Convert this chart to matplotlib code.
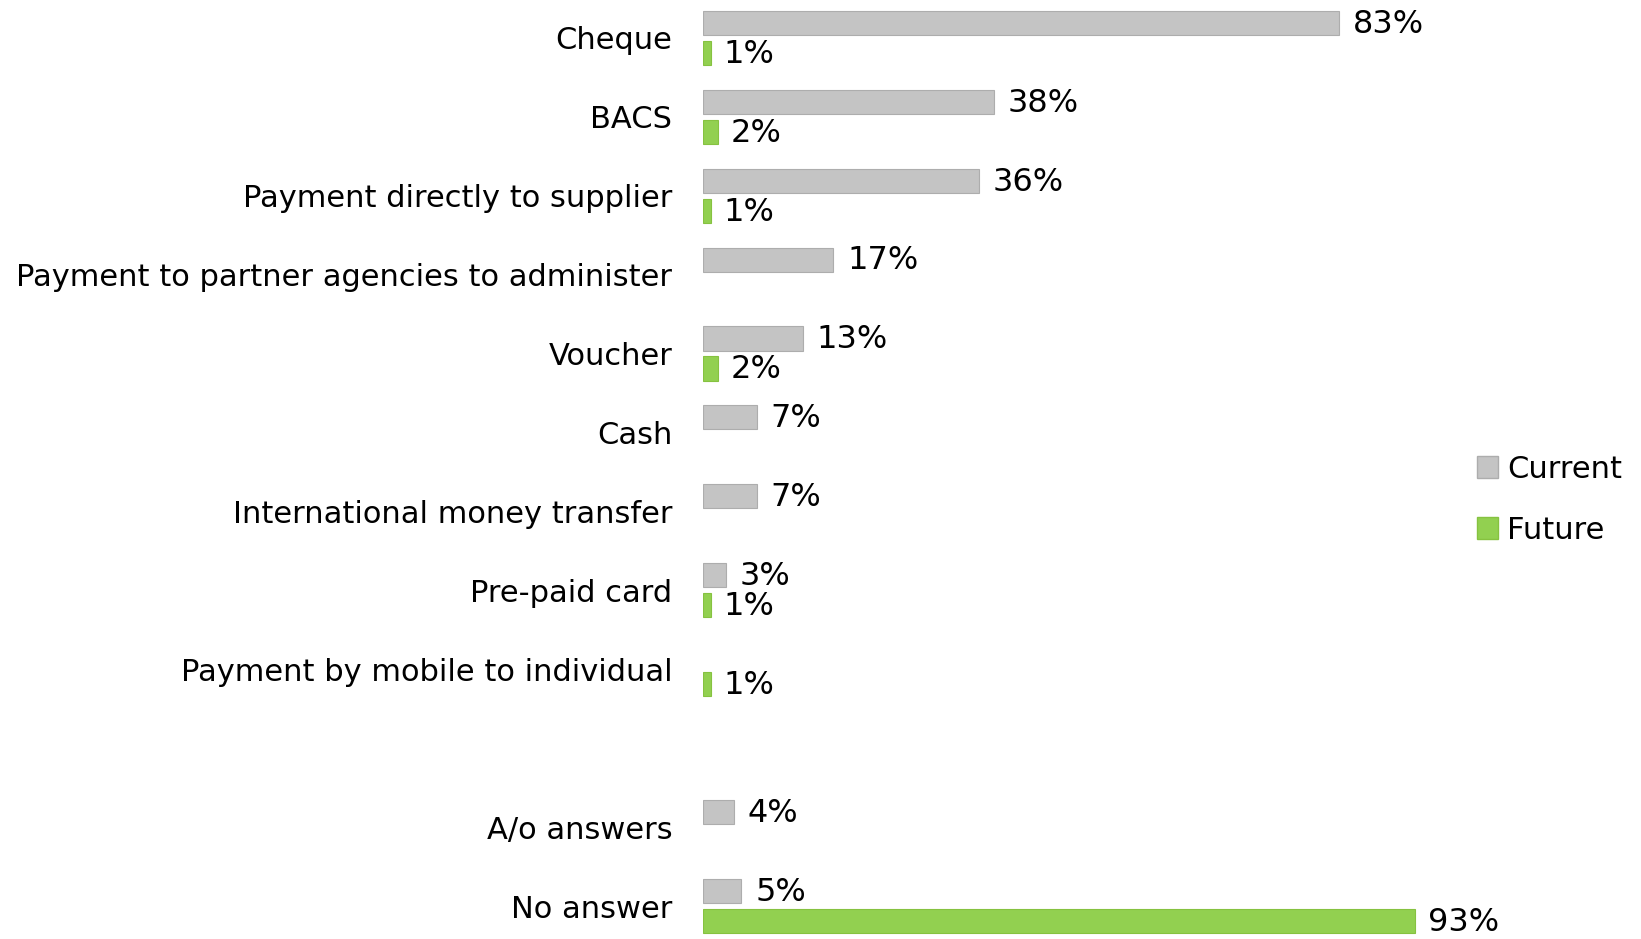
import numpy as np
import matplotlib
matplotlib.use("Agg")
from matplotlib import pyplot as plt
from matplotlib.patches import Patch

# 数据
categories = ["Cheque", "BACS", "Payment directly to supplier",
              "Payment to partner agencies to administer", "Voucher", "Cash",
              "International money transfer", "Pre-paid card",
              "Payment by mobile to individual", "",
              "A/o answers", "No answer"]
current = [83, 38, 36, 17, 13, 7, 7, 3, None, None, 4, 5]
future = [1, 2, 1, None, 2, None, None, 1, 1, None, None, 93]

plt.rcParams['font.family'] = ['DejaVu Sans']

fig = plt.figure(figsize=(16.41, 9.39), dpi=100)
ax = fig.add_axes([0.4284, 0.0015, 0.4668, 0.9961])

y = np.arange(len(categories))
h = 0.305
off = 0.19
grey = '#C4C4C4'
green = '#92D050'

for i in range(len(categories)):
    if current[i] is not None:
        ax.barh(y[i] - off, current[i], height=h, color=grey, edgecolor='#ADADAD', linewidth=0.8)
        ax.annotate('%d%%' % current[i], (current[i], y[i] - off), xytext=(10, -1),
                    textcoords='offset points', va='center', ha='left', fontsize=23)
    if future[i] is not None:
        ax.barh(y[i] + off, future[i], height=h, color=green, edgecolor='#86C240', linewidth=0.8)
        ax.annotate('%d%%' % future[i], (future[i], y[i] + off), xytext=(9, -1),
                    textcoords='offset points', va='center', ha='left', fontsize=23)

ax.set_xlim(0, 100)
ax.set_ylim(11.4, -0.45)
ax.set_yticks(y)
ax.set_yticklabels(categories, fontsize=22)
ax.tick_params(axis='y', length=0, pad=22)
ax.set_xticks([])
for s in ax.spines.values():
    s.set_visible(False)

# 图例
handles = [Patch(facecolor=grey, edgecolor='#ADADAD'), Patch(facecolor=green, edgecolor='#86C240')]
fig.legend(handles, ['Current', 'Future'], loc='center left', bbox_to_anchor=(0.883, 0.468),
           frameon=False, fontsize=22, handlelength=0.7, handleheight=0.7,
           handletextpad=0.3, labelspacing=1.05)

fig.savefig('out.png', dpi=100)
